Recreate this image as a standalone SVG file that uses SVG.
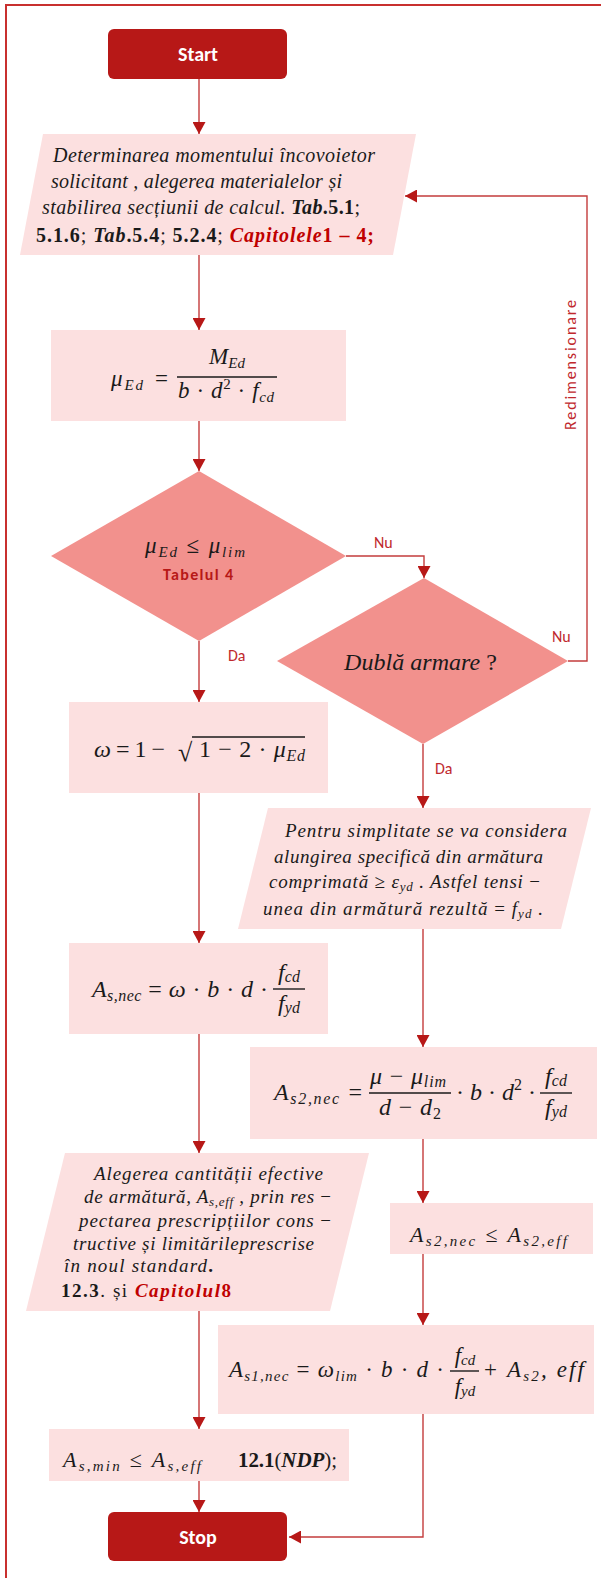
<svg xmlns="http://www.w3.org/2000/svg" width="601" height="1578" viewBox="0 0 601 1578">
<defs>
<style>
.term{fill:#b71817}
.box{fill:#fce0e0}
.dia{fill:#f2918d}
.tt{font-family:Carlito,Lato,"Liberation Sans",sans-serif;font-weight:bold;fill:#ffffff;font-size:20px;text-anchor:middle}
.lbl{font-family:Carlito,Lato,"Liberation Sans",sans-serif;fill:#c0282d;font-size:16px}
.m{font-family:"Liberation Serif",serif;font-style:italic;fill:#1a1a1a}
.u{font-style:normal}
.b{font-weight:bold}
.r{fill:#c00000}
.conn{fill:none;stroke:#c43c3c;stroke-width:1.4}
.bar{stroke:#1a1a1a;stroke-width:1.4}
</style>
<marker id="ah" viewBox="0 0 12 13" refX="12" refY="6.5" markerWidth="12" markerHeight="13" markerUnits="userSpaceOnUse" orient="auto">
<path d="M0,0 L12,6.5 L0,13 z" fill="#b71817"/>
</marker>
</defs>
<rect x="6" y="5" width="700" height="1700" fill="none" stroke="#c8302f" stroke-width="2"/>

<g id="connectors">
<line class="conn" x1="199" y1="79" x2="199" y2="134" marker-end="url(#ah)"/>
<line class="conn" x1="199" y1="255" x2="199" y2="330" marker-end="url(#ah)"/>
<line class="conn" x1="199" y1="421" x2="199" y2="471" marker-end="url(#ah)"/>
<polyline class="conn" points="346,556 424,556 424,578" marker-end="url(#ah)"/>
<polyline class="conn" points="568,661 587,661 587,196 405,196" marker-end="url(#ah)"/>
<line class="conn" x1="199" y1="641" x2="199" y2="702" marker-end="url(#ah)"/>
<line class="conn" x1="423" y1="744" x2="423" y2="808" marker-end="url(#ah)"/>
<line class="conn" x1="199" y1="793" x2="199" y2="943" marker-end="url(#ah)"/>
<line class="conn" x1="423" y1="929" x2="423" y2="1047" marker-end="url(#ah)"/>
<line class="conn" x1="199" y1="1034" x2="199" y2="1153" marker-end="url(#ah)"/>
<line class="conn" x1="423" y1="1139" x2="423" y2="1203" marker-end="url(#ah)"/>
<line class="conn" x1="423" y1="1254" x2="423" y2="1325" marker-end="url(#ah)"/>
<line class="conn" x1="199" y1="1311" x2="199" y2="1429" marker-end="url(#ah)"/>
<line class="conn" x1="199" y1="1481" x2="199" y2="1512" marker-end="url(#ah)"/>
<polyline class="conn" points="423,1414 423,1537 289,1537" marker-end="url(#ah)"/>
<text class="lbl" x="374" y="548" font-size="17">Nu</text>
<text class="lbl" x="552" y="642" font-size="17">Nu</text>
<text class="lbl" x="228" y="661" font-size="17">Da</text>
<text class="lbl" x="435" y="774" font-size="17">Da</text>
<text class="lbl" transform="translate(576,365) rotate(-90)" text-anchor="middle" font-size="18" textLength="130">Redimensionare</text>
</g>

<g id="start">
<rect class="term" x="108" y="29" width="179" height="50" rx="6"/>
<text class="tt" x="198" y="61">Start</text>
</g>

<g id="input1">
<polygon class="box" points="43,134 416,134 393,255 20,255"/>
<text class="m" font-size="20" x="53" y="162" textLength="322">Determinarea momentului încovoietor</text>
<text class="m" font-size="20" x="51" y="188" textLength="291">solicitant , alegerea materialelor și</text>
<text class="m" font-size="20" x="42" y="214" textLength="318">stabilirea secțiunii de calcul. <tspan class="b">Tab</tspan><tspan class="b u">.5.1</tspan><tspan class="u">;</tspan></text>
<text class="m" font-size="20" x="36" y="242" textLength="338"><tspan class="b u">5.1.6</tspan><tspan class="u">; </tspan><tspan class="b">Tab</tspan><tspan class="b u">.5.4</tspan><tspan class="u">; </tspan><tspan class="b u">5.2.4</tspan><tspan class="u">; </tspan><tspan class="b r">Capitolele</tspan><tspan class="b u r">1 – 4;</tspan></text>
</g>

<g id="mu">
<rect class="box" x="51" y="330" width="295" height="91"/>
<text class="m" font-size="23" x="111" y="386" textLength="32">μ<tspan font-size="15" dy="4">Ed</tspan></text>
<text class="m u" font-size="23" x="155" y="386">=</text>
<text class="m" font-size="23" x="209" y="364" textLength="36">M<tspan font-size="15" dy="4">Ed</tspan></text>
<line class="bar" x1="177" y1="377" x2="277" y2="377"/>
<text class="m" font-size="23" x="178" y="398" textLength="96">b <tspan class="u">·</tspan> d<tspan class="u" font-size="15" dy="-9">2</tspan><tspan class="u" dy="9"> · </tspan>f<tspan font-size="15" dy="4">cd</tspan></text>
</g>

<g id="check1">
<polygon class="dia" points="199,471 346,556 199,641 51,556"/>
<text class="m" font-size="23" x="145" y="553" textLength="100">μ<tspan font-size="15" dy="4">Ed</tspan><tspan class="u" dy="-4"> ≤ </tspan>μ<tspan font-size="15" dy="4">lim</tspan></text>
<text x="198" y="580" text-anchor="middle" font-family="Carlito,Lato,'Liberation Sans',sans-serif" font-weight="bold" font-size="16" fill="#b71817" textLength="70">Tabelul 4</text>
</g>

<g id="check2">
<polygon class="dia" points="424,578 568,661 423,744 277,661"/>
<text class="m" font-size="24" x="344" y="670" textLength="153">Dublă armare <tspan class="u">?</tspan></text>
</g>

<g id="omega">
<rect class="box" x="69" y="702" width="259" height="91"/>
<text class="m" font-size="24" x="94" y="757" textLength="71">ω<tspan class="u"> = 1 −</tspan></text>
<text class="m u" font-size="26" x="178" y="761">√</text>
<line class="bar" x1="192" y1="737" x2="305" y2="737"/>
<text class="m" font-size="24" x="199" y="757" textLength="106"><tspan class="u">1 − 2 · </tspan>μ<tspan font-size="16" dy="4">Ed</tspan></text>
</g>

<g id="input2">
<polygon class="box" points="268,808 591,808 561,929 238,929"/>
<text class="m" font-size="19" x="285" y="837" textLength="282">Pentru simplitate  se va considera</text>
<text class="m" font-size="19" x="274" y="863" textLength="269">alungirea specifică din armătura</text>
<text class="m" font-size="19" x="269" y="888" textLength="271">comprimată <tspan class="u">≥</tspan> ε<tspan font-size="13" dy="3">yd</tspan><tspan dy="-3"> . Astfel tensi </tspan><tspan class="u">−</tspan></text>
<text class="m" font-size="19" x="263" y="915" textLength="280">unea din armătură rezultă <tspan class="u"> = </tspan>f<tspan font-size="13" dy="3">yd</tspan><tspan dy="-3"> .</tspan></text>
</g>

<g id="asnec">
<rect class="box" x="69" y="943" width="259" height="91"/>
<text class="m" font-size="24" x="92" y="997" textLength="176">A<tspan font-size="16" dy="4">s,nec</tspan><tspan class="u" dy="-4">  = </tspan>ω<tspan class="u"> · </tspan>b<tspan class="u"> · </tspan>d<tspan class="u"> ·</tspan></text>
<line class="bar" x1="273" y1="989" x2="305" y2="989"/>
<text class="m" font-size="24" x="289" y="980" text-anchor="middle">f<tspan font-size="16" dy="2">cd</tspan></text>
<text class="m" font-size="24" x="289" y="1011" text-anchor="middle">f<tspan font-size="16" dy="2">yd</tspan></text>
</g>

<g id="as2nec">
<rect class="box" x="250" y="1047" width="347" height="92"/>
<text class="m" font-size="24" x="274" y="1100" textLength="88">A<tspan font-size="16" dy="4">s2,nec</tspan><tspan class="u" dy="-4">  =</tspan></text>
<text class="m" font-size="24" x="370" y="1084" textLength="76">μ<tspan class="u"> − </tspan>μ<tspan font-size="16" dy="3">lim</tspan></text>
<line class="bar" x1="369" y1="1093" x2="451" y2="1093"/>
<text class="m" font-size="24" x="379" y="1115" textLength="62">d<tspan class="u"> − </tspan>d<tspan class="u" font-size="16" dy="4">2</tspan></text>
<text class="m" font-size="24" x="456" y="1100" textLength="80"><tspan class="u">· </tspan>b<tspan class="u"> · </tspan>d<tspan class="u" font-size="16" dy="-10">2</tspan><tspan class="u" dy="10"> ·</tspan></text>
<line class="bar" x1="540" y1="1093" x2="572" y2="1093"/>
<text class="m" font-size="24" x="556" y="1084" text-anchor="middle">f<tspan font-size="16" dy="2">cd</tspan></text>
<text class="m" font-size="24" x="556" y="1115" text-anchor="middle">f<tspan font-size="16" dy="2">yd</tspan></text>
</g>

<g id="input3">
<polygon class="box" points="65,1153 369,1153 330,1311 26,1311"/>
<text class="m" font-size="19" x="94" y="1180" textLength="229">Alegerea cantității efective</text>
<text class="m" font-size="19" x="84" y="1203" textLength="247">de armătură, A<tspan font-size="13" dy="3">s,eff</tspan><tspan dy="-3"> , prin res </tspan><tspan class="u">−</tspan></text>
<text class="m" font-size="19" x="79" y="1227" textLength="252">pectarea prescripțiilor cons <tspan class="u">−</tspan></text>
<text class="m" font-size="19" x="73" y="1250" textLength="241">tructive și limitărileprescrise</text>
<text class="m" font-size="19" x="64" y="1272" textLength="149">în noul standard<tspan class="b u">.</tspan></text>
<text class="m" font-size="19" x="61" y="1297" textLength="170"><tspan class="b u">12.3</tspan><tspan class="u">. și </tspan><tspan class="b r">Capitolul</tspan><tspan class="b u r">8</tspan></text>
</g>

<g id="as2check">
<rect class="box" x="390" y="1203" width="203" height="51"/>
<text class="m" font-size="22" x="410" y="1242" textLength="157">A<tspan font-size="15" dy="4">s2,nec</tspan><tspan class="u" dy="-4">  ≤ </tspan>A<tspan font-size="15" dy="4">s2,eff</tspan></text>
</g>

<g id="as1nec">
<rect class="box" x="218" y="1325" width="376" height="89"/>
<text class="m" font-size="23" x="229" y="1377" textLength="215">A<tspan font-size="15" dy="4">s1,nec</tspan><tspan class="u" dy="-4">  = </tspan>ω<tspan font-size="15" dy="4">lim</tspan><tspan class="u" dy="-4">  · </tspan>b<tspan class="u"> · </tspan>d<tspan class="u"> ·</tspan></text>
<line class="bar" x1="450" y1="1371" x2="479" y2="1371"/>
<text class="m" font-size="23" x="465" y="1363" text-anchor="middle">f<tspan font-size="15" dy="2">cd</tspan></text>
<text class="m" font-size="23" x="465" y="1394" text-anchor="middle">f<tspan font-size="15" dy="2">yd</tspan></text>
<text class="m" font-size="23" x="484" y="1377" textLength="100"><tspan class="u">+ </tspan>A<tspan font-size="15" dy="4">s2</tspan><tspan dy="-4">, eff</tspan></text>
</g>

<g id="asmin">
<rect class="box" x="49" y="1429" width="300" height="52"/>
<text class="m" font-size="22" x="63" y="1467" textLength="138">A<tspan font-size="15" dy="4">s,min</tspan><tspan class="u" dy="-4">  ≤ </tspan>A<tspan font-size="15" dy="4">s,eff</tspan></text>
<text class="m" font-size="21" x="238" y="1467" textLength="99"><tspan class="b u">12.1</tspan><tspan class="u">(</tspan><tspan class="b">NDP</tspan><tspan class="u">);</tspan></text>
</g>

<g id="stop">
<rect class="term" x="108" y="1512" width="179" height="49" rx="6"/>
<text class="tt" x="198" y="1544">Stop</text>
</g>
</svg>
